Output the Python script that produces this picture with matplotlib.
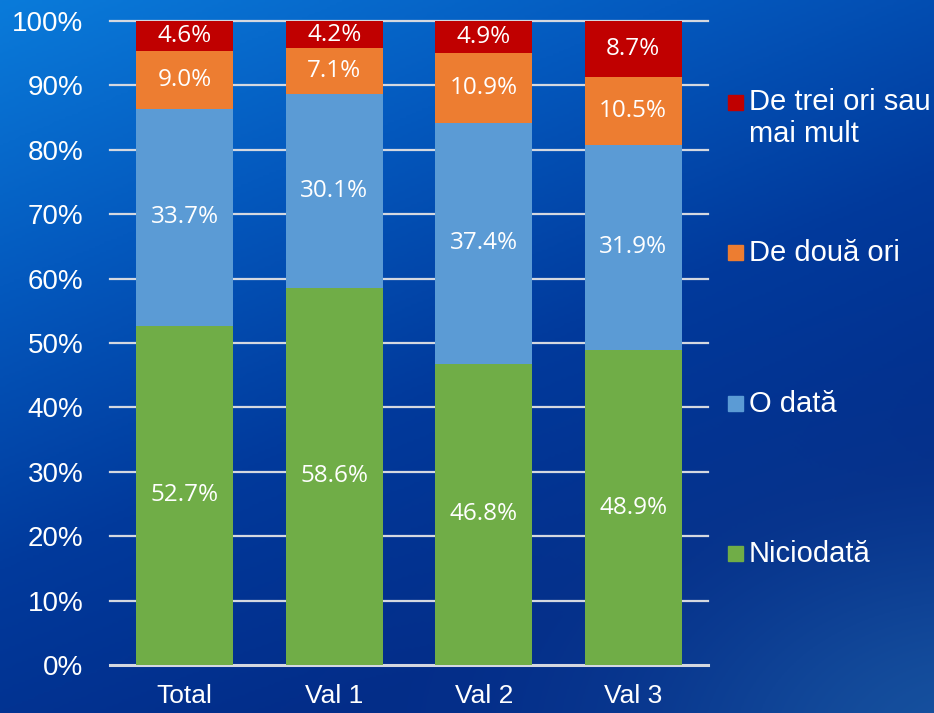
import numpy as np
import matplotlib.pyplot as plt
from matplotlib.colors import LinearSegmentedColormap
from matplotlib.patches import Rectangle

categories = ['Total', 'Val 1', 'Val 2', 'Val 3']
niciodata = [52.7, 58.6, 46.8, 48.9]
o_data = [33.7, 30.1, 37.4, 31.9]
de_doua_ori = [9.0, 7.1, 10.9, 10.5]
de_trei_ori = [4.6, 4.2, 4.9, 8.7]
series_names = ['Niciodată', 'O dată', 'De două ori', 'De trei ori sau\nmai mult']
series_colors = ['#70AD47', '#5B9BD5', '#ED7D31', '#C00000']
y_ticks = [0, 10, 20, 30, 40, 50, 60, 70, 80, 90, 100]

W, H = 934, 713
fig = plt.figure(figsize=(W / 100, H / 100), dpi=100)

# blue gradient background
bg = fig.add_axes([0, 0, 1, 1], zorder=-10)
gx, gy = np.meshgrid(np.linspace(0, 1, 300), np.linspace(0, 1, 300))
t = np.clip((0.55 * gx + gy) / 1.2, 0, 1)
blob = np.exp(-(((gx - 1.05) / 0.35) ** 2 + ((gy - 1.05) / 0.3) ** 2))
cmap = LinearSegmentedColormap.from_list('bg', ['#0A7BDA', '#0459BE', '#013A9C', '#032C88'])
img = cmap(t)[..., :3]
light = np.array([0.12, 0.38, 0.66])
img = img * (1 - 0.7 * blob[..., None]) + light * 0.7 * blob[..., None]
bg.imshow(img, extent=[0, 1, 0, 1], aspect='auto', origin='upper')
bg.axis('off')

ax = fig.add_axes([110 / W, 1 - 665 / H, 598 / W, 644 / H])
ax.set_facecolor('none')
x = np.arange(len(categories))
bottoms = np.zeros(len(categories))
for vals, col in zip([niciodata, o_data, de_doua_ori, de_trei_ori], series_colors):
    bars = ax.bar(x, vals, 0.65, bottom=bottoms, color=col, zorder=3)
    ax.bar_label(bars, labels=[f'{v:.1f}%' for v in vals], label_type='center',
                 color='white', fontsize=17.5, family='Open Sans')
    bottoms += np.array(vals)

for yt in y_ticks:
    ax.axhline(yt, color='#D4D8E0', lw=1.6 if yt else 2.2, zorder=1, clip_on=False)

ax.set_xlim(-0.5, 3.5)
ax.set_ylim(0, 100)
ax.set_yticks(y_ticks)
ax.set_yticklabels([f'{v}%' for v in y_ticks])
ax.set_xticks(x)
ax.set_xticklabels(categories)
ax.tick_params(axis='y', length=0, pad=19, labelsize=20, labelcolor='white')
ax.tick_params(axis='x', length=0, pad=14, labelsize=19, labelcolor='white')
for lab in ax.get_xticklabels() + ax.get_yticklabels():
    lab.set_family('Liberation Sans')
for s in ax.spines.values():
    s.set_visible(False)

# legend, top to bottom
leg_y = [553, 403, 252, 102]
for name, col, yc in zip(series_names, series_colors, leg_y):
    fig.patches.append(Rectangle((728 / W, 1 - (yc + 7.5) / H), 15 / W, 15 / H,
                                 transform=fig.transFigure, color=col))
    if '\n' in name:
        fig.text(749 / W, 1 - 88 / H, name, va='top', ha='left', color='white',
                 fontsize=21, family='Liberation Sans', linespacing=1.2)
    else:
        fig.text(749 / W, 1 - (yc + 1) / H, name, va='center', ha='left', color='white',
                 fontsize=21, family='Liberation Sans')

fig.savefig('out.png', dpi=100)
